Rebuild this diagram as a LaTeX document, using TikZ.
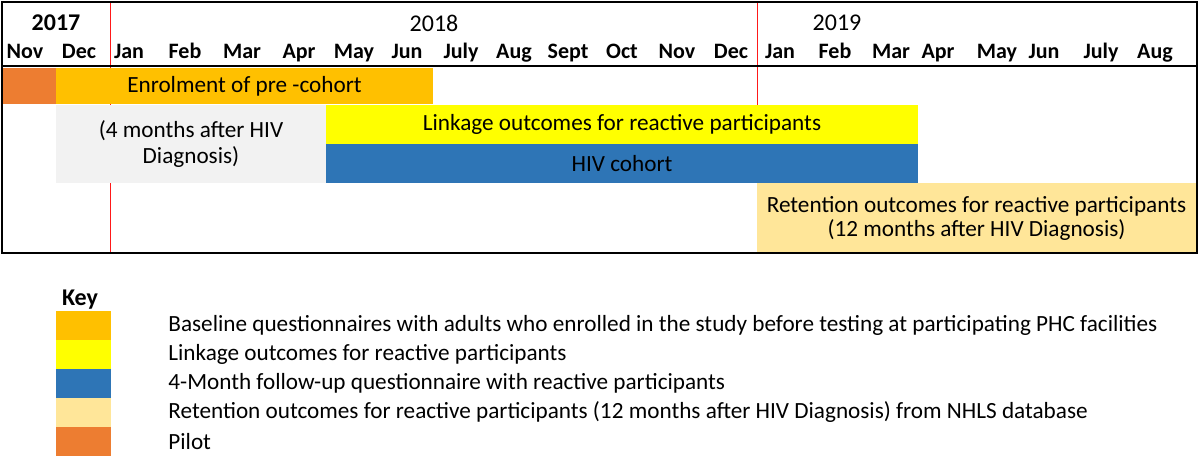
\documentclass[tikz,border=0pt]{standalone}
\usepackage{fontspec}
\setmainfont{Carlito}
\usepackage{xcolor}
\usetikzlibrary{positioning}
\definecolor{enrol}{HTML}{FFC000}
\definecolor{linkage}{HTML}{FFFF00}
\definecolor{cohort}{HTML}{2E75B6}
\definecolor{retention}{HTML}{FFE699}
\definecolor{pilot}{HTML}{ED7D31}
\definecolor{pending}{HTML}{F2F2F2}
\tikzset{
  bar/.style={inner sep=0pt, outer sep=0pt, anchor=north west, align=center, font=\fontsize{11.6}{13}\selectfont},
  monthlbl/.style={inner sep=0pt, font=\fontsize{11}{13}\selectfont\bfseries},
  yearlbl/.style={inner sep=0pt, font=\fontsize{12}{14}\selectfont},
  swatch/.style={inner sep=0pt, outer sep=0pt, anchor=north west, minimum width=27.5pt, minimum height=14.5pt},
  keylbl/.style={inner sep=0pt, font=\fontsize{11.6}{13}\selectfont},
}
\begin{document}
\begin{tikzpicture}[x=0.5pt, y={(0pt,-0.5pt)}]
\useasboundingbox (0,0) rectangle (1200,459);
\coordinate (O) at (0,0);
\draw[red!90, line width=0.3pt] (110,2) -- (110,253);
\draw[red!90, line width=0.3pt] (757,2) -- (757,253);
\node[yearlbl, font=\fontsize{12}{14}\selectfont\bfseries] (y2017) at (56,23) {2017};
\node[yearlbl] (y2018) at (434,23) {2018};
\node[yearlbl] (y2019) at (837,23) {2019};
\foreach \v/\w [count=\i] in {25/Nov,79/Dec,129/Jan,185/Feb,242/Mar,299/Apr,354/May,407/Jun,461/July,514/Aug,568/Sept,622/Oct,677/Nov,731/Dec,780/Jan,835/Feb,891/Mar,938/Apr,997/May,1044/Jun,1101/July,1155/Aug}{
    \node[monthlbl, anchor=base] (m\i) at (\v,59) {\w};
}
\node[bar, fill=pilot, minimum width=26.5pt, minimum height=18pt] (pilotbar) at (3,68) {};
\node[bar, fill=enrol, minimum width=188.5pt, minimum height=18pt] (enrolbar) at (56,68) {Enrolment of pre -cohort};
\node[bar, fill=pending, minimum width=135pt, minimum height=39pt] (waitbar) at (56,105) {(4 months after HIV\\Diagnosis)};
\node[bar, fill=linkage, minimum width=296pt, minimum height=19.5pt] (linkbar) at (326,105) {Linkage outcomes for reactive participants};
\node[bar, fill=cohort, minimum width=296pt, minimum height=19.5pt] (cohortbar) at (326,144) {HIV cohort};
\node[bar, fill=retention, minimum width=219.5pt, minimum height=35pt, font=\fontsize{11.6}{12}\selectfont] (retbar) at (757,183) {Retention outcomes for reactive participants\\(12 months after HIV Diagnosis)};
\draw[line width=1pt] (2,2) rectangle (1197,253);
\draw[line width=1pt] (2,66) -- (1197,66);
\node[keylbl, font=\fontsize{12}{14}\selectfont\bfseries] (key) at (80,300) {Key};
\foreach \c/\t [count=\i] in {enrol/Baseline questionnaires with adults who enrolled in the study before testing at participating PHC facilities,linkage/Linkage outcomes for reactive participants,cohort/4-Month follow-up questionnaire with reactive participants,retention/Retention outcomes for reactive participants (12 months after HIV Diagnosis) from NHLS database,pilot/Pilot}{
    \node[swatch, fill=\c] (sw\i) at (56,282+29*\i) {};
    \node[keylbl, right=28.5pt of sw\i] (kt\i) {\t};
}
\end{tikzpicture}
\end{document}
